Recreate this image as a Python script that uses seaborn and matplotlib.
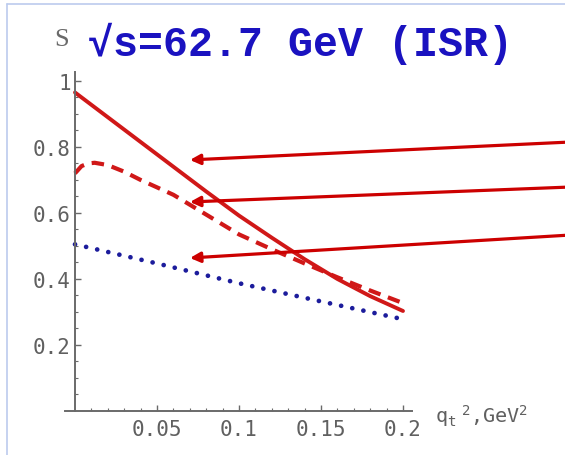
import matplotlib
matplotlib.use("Agg")
import matplotlib.pyplot as plt
from matplotlib.lines import Line2D
import seaborn as sns
import pandas as pd
import numpy as np

# ---- data ----
x_solid = [0.0, 0.02, 0.04, 0.06, 0.08, 0.10, 0.12, 0.14, 0.16, 0.18, 0.20]
y_solid = [0.965, 0.89, 0.815, 0.74, 0.665, 0.592, 0.525, 0.46, 0.40, 0.348, 0.303]

x_dashed = [0.0, 0.004, 0.008, 0.012, 0.02, 0.03, 0.04, 0.06, 0.08, 0.10, 0.12, 0.14, 0.16, 0.18, 0.20]
y_dashed = [0.72, 0.742, 0.75, 0.752, 0.745, 0.725, 0.70, 0.655, 0.595, 0.535, 0.49, 0.447, 0.405, 0.365, 0.327]

x_dotted = [0.0, 0.05, 0.10, 0.15, 0.20]
y_dotted = [0.505, 0.447, 0.387, 0.332, 0.278]

x_ticks = [0.05, 0.1, 0.15, 0.2]
x_ticklabels = ["0.05", "0.1", "0.15", "0.2"]
y_ticks = [0.2, 0.4, 0.6, 0.8, 1.0]
y_ticklabels = ["0.2", "0.4", "0.6", "0.8", "1"]

title_text = "\u221as=62.7 GeV (ISR)"
ylabel_text = "S"
xlabel_text = r"q$_\mathregular{t}$$^\mathregular{\ 2}$,GeV$^\mathregular{2}$"

# ---- style ----
sns.set_theme(style="white")
plt.rcParams['font.family'] = ['DejaVu Sans Mono', 'DejaVu Sans']

RED = "#d01818"
BLUE = "#1c1c9c"
GRAY = "#6a6a6a"

W, H = 565, 456
fig = plt.figure(figsize=(W / 100, H / 100), dpi=100)
fig.patch.set_facecolor("white")

left_px, right_px, bottom_px, top_px = 65, 412, 412, 73
ax = fig.add_axes([left_px / W, 1 - bottom_px / H, (right_px - left_px) / W, (bottom_px - top_px) / H])
ax.set_facecolor("white")

df_s = pd.DataFrame({"x": x_solid, "y": y_solid})
df_d = pd.DataFrame({"x": x_dashed, "y": y_dashed})
df_o = pd.DataFrame({"x": x_dotted, "y": y_dotted})

sns.lineplot(data=df_o, x="x", y="y", ax=ax, color=BLUE, linewidth=3.4,
             linestyle=(0, (0.01, 2.4)), dash_capstyle="round")
sns.lineplot(data=df_d, x="x", y="y", ax=ax, color=RED, linewidth=3.0,
             linestyle=(0, (3.0, 1.9)))
sns.lineplot(data=df_s, x="x", y="y", ax=ax, color=RED, linewidth=2.8)

ax.set_xlim(-0.0061, 0.2055)
ax.set_ylim(0, 1.027)

for s in ["top", "right"]:
    ax.spines[s].set_visible(False)
ax.spines["left"].set_position(("data", 0))
for s in ["left", "bottom"]:
    ax.spines[s].set_color(GRAY)
    ax.spines[s].set_linewidth(1.4)

ax.set_xticks(x_ticks)
ax.set_xticklabels(x_ticklabels)
ax.set_yticks(y_ticks)
ax.set_yticklabels(y_ticklabels)
ax.set_xticks(np.arange(0.01, 0.2001, 0.01), minor=True)
ax.set_yticks(np.arange(0.05, 1.001, 0.05), minor=True)
ax.tick_params(axis="both", which="both", bottom=True, left=True, top=False, right=False)
ax.tick_params(axis="both", which="major", direction="in", length=4.5, width=1.0,
               color=GRAY, labelcolor="#606060", labelsize=15)
ax.tick_params(axis="both", which="minor", direction="in", length=2.2, width=0.8, color=GRAY)
ax.tick_params(axis="x", which="major", pad=6)
ax.tick_params(axis="y", which="major", pad=3)
ax.set_xlabel("")
ax.set_ylabel("")
ax.grid(False)

# title and labels
fig.text(88 / W, 1 - 44 / H, title_text, color="#1a12c0", fontsize=30,
         fontweight="bold", family=["Liberation Mono", "DejaVu Sans Mono"],
         ha="left", va="center")
fig.text(62 / W, 1 - 40 / H, ylabel_text, color="#6a6a6a", fontsize=19,
         family=["Liberation Serif", "DejaVu Serif"], ha="center", va="center")
fig.text(435 / W, 1 - 416 / H, xlabel_text, color="#606060", fontsize=14.5,
         ha="left", va="center")

# arrows
arrow_tips = [(0.0701, 0.7606), (0.0701, 0.6333), (0.0701, 0.4636)]
arrow_tails = [(1.01, 1 - 143 / H), (1.01, 1 - 188 / H), (1.01, 1 - 236 / H)]
for tip, tail in zip(arrow_tips, arrow_tails):
    ax.annotate("", xy=tip, xycoords="data", xytext=tail, textcoords="figure fraction",
                arrowprops=dict(arrowstyle="-|>", color="#cc0000", lw=2.3,
                                mutation_scale=15, shrinkA=0, shrinkB=0),
                annotation_clip=False)

# slide border lines
fig.add_artist(Line2D([7 / W, 7 / W], [0, 1 - 5 / H], color="#bccbee", lw=1.2))
fig.add_artist(Line2D([7 / W, 1], [1 - 5 / H, 1 - 5 / H], color="#bccbee", lw=1.2))

fig.savefig("out.png", dpi=100, facecolor="white")
